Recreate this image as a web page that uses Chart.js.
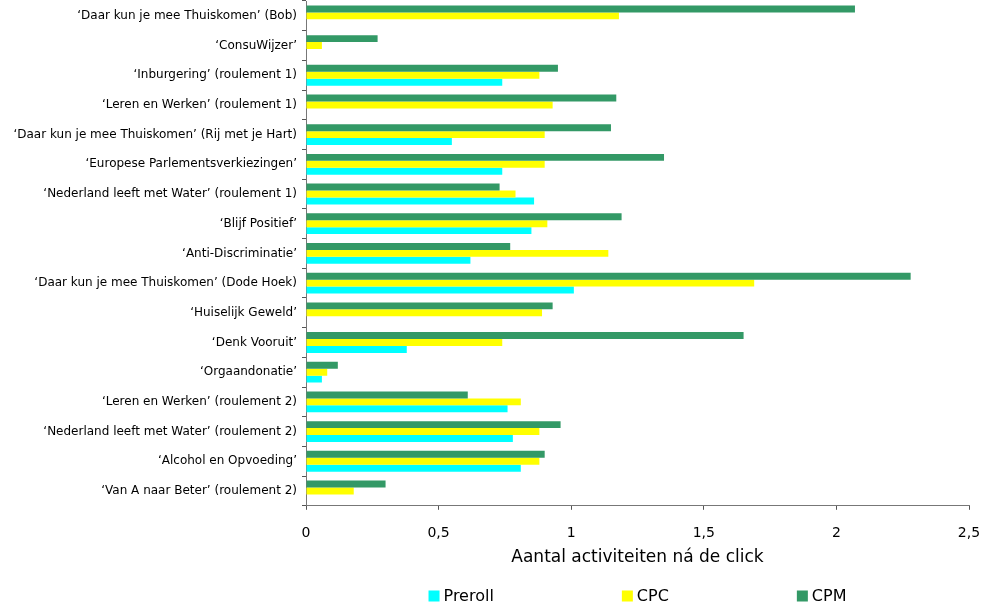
<!DOCTYPE html>
<html>
<head>
<meta charset="utf-8">
<script src="https://cdn.jsdelivr.net/npm/chart.js@4.4.0/dist/chart.umd.min.js"></script>
<style>
    body { margin: 0; background: #fff; }
    #wrap { width: 999px; height: 611px; }
</style>
</head>
<body>
<div id="wrap"><canvas id="bar-chart"></canvas></div>
<script>
    var campagnes = [
        "\u2018Daar kun je mee Thuiskomen\u2019 (Bob)",
        "\u2018ConsuWijzer\u2019",
        "\u2018Inburgering\u2019 (roulement 1)",
        "\u2018Leren en Werken\u2019 (roulement 1)",
        "\u2018Daar kun je mee Thuiskomen\u2019 (Rij met je Hart)",
        "\u2018Europese Parlementsverkiezingen\u2019",
        "\u2018Nederland leeft met Water\u2019 (roulement 1)",
        "\u2018Blijf Positief\u2019",
        "\u2018Anti-Discriminatie\u2019",
        "\u2018Daar kun je mee Thuiskomen\u2019 (Dode Hoek)",
        "\u2018Huiselijk Geweld\u2019",
        "\u2018Denk Vooruit\u2019",
        "\u2018Orgaandonatie\u2019",
        "\u2018Leren en Werken\u2019 (roulement 2)",
        "\u2018Nederland leeft met Water\u2019 (roulement 2)",
        "\u2018Alcohol en Opvoeding\u2019",
        "\u2018Van A naar Beter\u2019 (roulement 2)"
    ];

    var preroll = [null, null, 0.74, null, 0.55, 0.74, 0.86, 0.85, 0.62, 1.01, null, 0.38, 0.06, 0.76, 0.78, 0.81, null];
    var cpc = [1.18, 0.06, 0.88, 0.93, 0.90, 0.90, 0.79, 0.91, 1.14, 1.69, 0.89, 0.74, 0.08, 0.81, 0.88, 0.88, 0.18];
    var cpm = [2.07, 0.27, 0.95, 1.17, 1.15, 1.35, 0.73, 1.19, 0.77, 2.28, 0.93, 1.65, 0.12, 0.61, 0.96, 0.90, 0.30];

    var xTicks = [0, 0.5, 1, 1.5, 2, 2.5];

    // eigen legenda: Preroll, CPC, CPM naast elkaar, gecentreerd onder het plotgebied
    var legendUnderPlot = {
        id: 'legendUnderPlot',
        afterDraw: function (chart) {
            var ctx = chart.ctx;
            var area = chart.chartArea;
            var sets = chart.data.datasets.slice().reverse();
            var box = 11;
            var gap = 128;
            var y = 596;

            ctx.save();
            ctx.font = '16px "DejaVu Sans"';
            ctx.textBaseline = 'middle';

            var widths = sets.map(function (ds) {
                return box + 4 + ctx.measureText(ds.label).width;
            });
            var total = widths.reduce(function (a, b) { return a + b; }, 0) + gap * (sets.length - 1);
            var x = (area.left + area.right) / 2 - total / 2;

            sets.forEach(function (ds, i) {
                ctx.fillStyle = ds.backgroundColor;
                ctx.fillRect(x, y - box / 2, box, box);
                ctx.fillStyle = '#000';
                ctx.fillText(ds.label, x + box + 4, y + 1);
                x += widths[i] + gap;
            });
            ctx.restore();
        }
    };

    function komma(value) {
        return String(value).replace('.', ',');
    }

    function makeBarChart() {
        var ctx = document.getElementById('bar-chart');
        var chart = new Chart(ctx, {

        type: 'bar',

        data: {
            labels: campagnes,
            datasets: [{
                    label: 'CPM',
                    backgroundColor: '#339966',
                    data: cpm
                },
                {
                    label: 'CPC',
                    backgroundColor: '#ffff00',
                    data: cpc
                },
                {
                    label: 'Preroll',
                    backgroundColor: '#00ffff',
                    data: preroll
                }
            ]
        },

        options: {
            indexAxis: 'y',
            responsive: true,
            maintainAspectRatio: false,
            animation: false,
            categoryPercentage: 0.7,
            barPercentage: 1,
            layout: {
                padding: { top: 1, right: 30, left: 0, bottom: 43 }
            },
            scales: {
                x: {
                    min: 0,
                    max: 2.5,
                    afterBuildTicks: function (scale) {
                        scale.ticks = xTicks.map(function (v) { return { value: v }; });
                    },
                    grid: { drawOnChartArea: false, tickLength: 4, color: '#555' },
                    border: { color: '#777', width: 1 },
                    ticks: {
                        color: '#000',
                        padding: 15,
                        font: { family: 'DejaVu Sans', size: 14 },
                        callback: function (value) { return komma(value); }
                    },
                    title: {
                        display: true,
                        text: 'Aantal activiteiten n\u00e1 de click',
                        color: '#000',
                        padding: { top: -9, bottom: 0 },
                        font: { family: 'DejaVu Sans', size: 17 }
                    }
                },
                y: {
                    afterFit: function (scale) {
                        scale.width = 306;
                        scale.paddingTop = 0;
                        scale.paddingBottom = 0;
                    },
                    grid: { drawOnChartArea: false, tickLength: 4, color: '#555', offset: true },
                    border: { color: '#777', width: 1 },
                    ticks: {
                        color: '#000',
                        padding: 5,
                        autoSkip: false,
                        font: { family: 'DejaVu Sans', size: 12 }
                    }
                }
            },
            plugins: {
                tooltip: { enabled: false },
                legend: { display: false }
            }
        },
        plugins: [legendUnderPlot]
    });
    }

    makeBarChart();
</script>
</body>
</html>
